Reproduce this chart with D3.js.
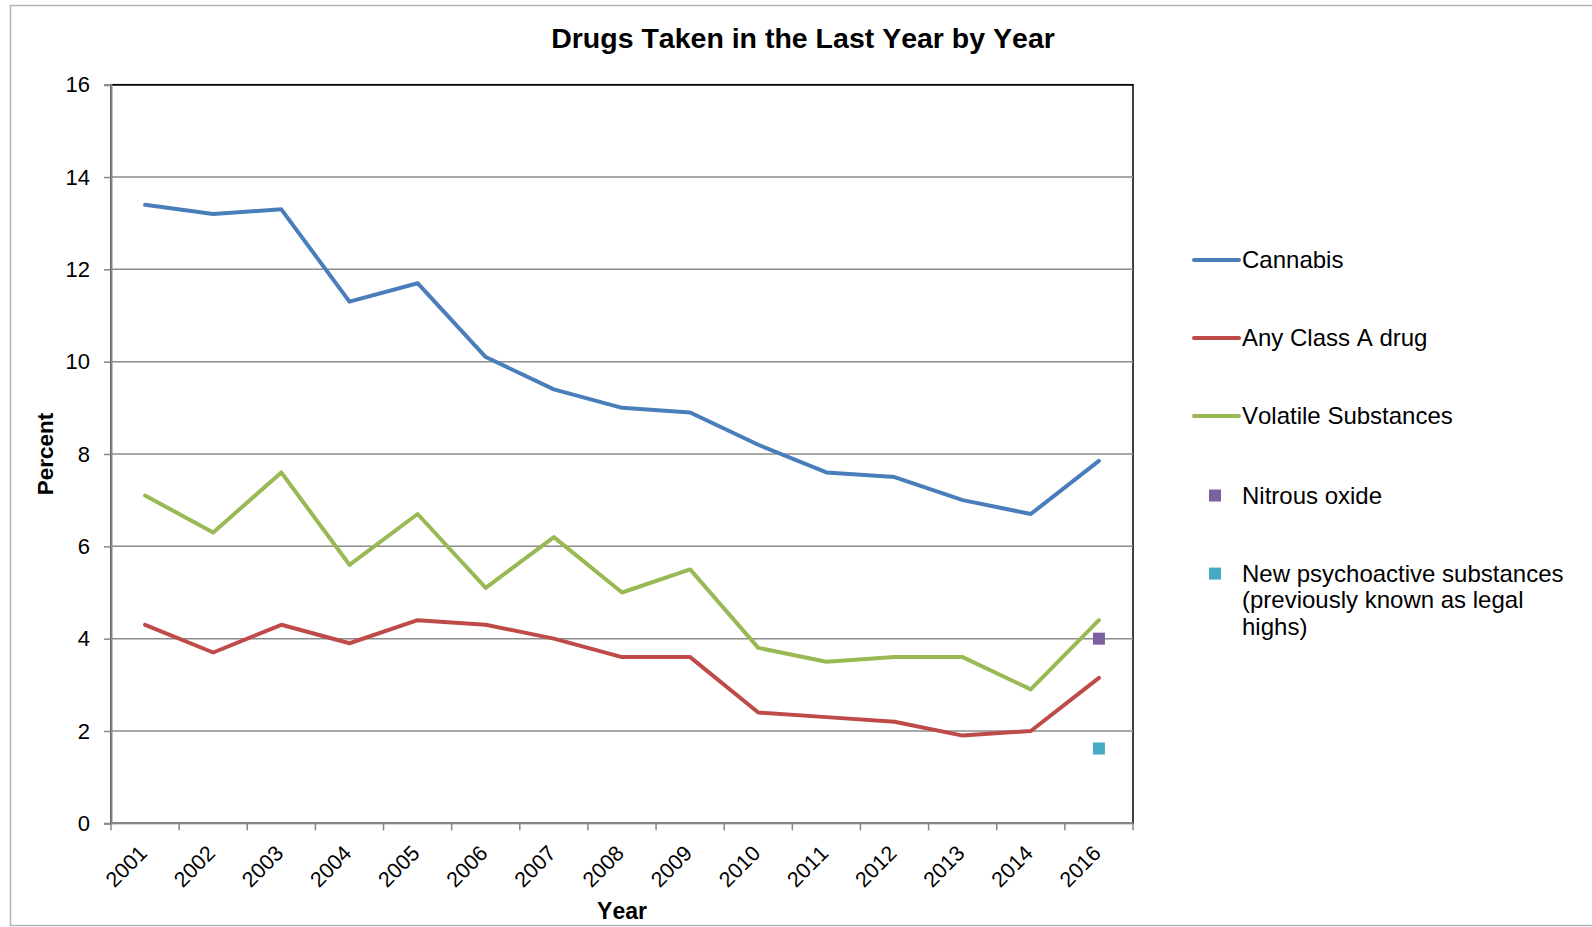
<!DOCTYPE html>
<html>
<head>
<meta charset="utf-8">
<script src="https://cdn.jsdelivr.net/npm/d3@7"></script>
<style>
  html, body { margin: 0; padding: 0; background: #fff; }
  svg { display: block; font-family: "Liberation Sans", Arial, sans-serif; font-kerning: none; }
</style>
</head>
<body>
<svg id="chart" width="1592" height="927"></svg>
<script>
// ---- data ----
const years = ["2001","2002","2003","2004","2005","2006","2007","2008","2009","2010","2011","2012","2013","2014","2016"];
const cannabis = [13.4,13.2,13.3,11.3,11.7,10.1,9.4,9.0,8.9,8.2,7.6,7.5,7.0,6.7,7.85];
const classA   = [4.3,3.7,4.3,3.9,4.4,4.3,4.0,3.6,3.6,2.4,2.3,2.2,1.9,2.0,3.15];
const volatile = [7.1,6.3,7.6,5.6,6.7,5.1,6.2,5.0,5.5,3.8,3.5,3.6,3.6,2.9,4.4];
const nitrousYear = "2016", nitrousValue = 4.0;
const npsYear = "2016", npsValue = 1.62;
const yTicks = [0,2,4,6,8,10,12,14,16];
const chartTitle = "Drugs Taken in the Last Year by Year";
const xTitle = "Year", yTitle = "Percent";

const lineSeries = [
  {name: "Cannabis", values: cannabis, color: "#4a7ebb"},
  {name: "Any Class A drug", values: classA, color: "#be4b48"},
  {name: "Volatile Substances", values: volatile, color: "#98b954"}
];
const pointSeries = [
  {name: ["Nitrous oxide"], year: nitrousYear, value: nitrousValue, color: "#7d60a0"},
  {name: ["New psychoactive substances", "(previously known as legal", "highs)"], year: npsYear, value: npsValue, color: "#46aac5"}
];

// ---- layout ----
const svg = d3.select("#chart");
const L = 111, R = 1133, T = 84.7, B = 823.3;

// outer chart border
svg.append("rect").attr("x", 10.5).attr("y", 5.5).attr("width", 1600).attr("height", 920)
  .attr("fill", "none").attr("stroke", "#b4b4b4").attr("stroke-width", 1.5);

const x = d3.scaleBand().domain(years).range([L, R]).padding(0);
const y = d3.scaleLinear().domain([0, 16]).range([B, T]);

// plot area border
svg.append("rect").attr("x", L).attr("y", T).attr("width", R - L).attr("height", B - T)
  .attr("fill", "none").attr("stroke", "#000").attr("stroke-width", 1.5);

// gridlines
svg.append("g").selectAll("line").data(yTicks.filter(d => d > 0)).join("line")
  .attr("x1", L).attr("x2", R).attr("y1", d => y(d)).attr("y2", d => y(d))
  .attr("stroke", d => d === 16 ? "#000" : "#8c8c8c").attr("stroke-width", 1.5);

// y axis
const yAxis = svg.append("g").attr("transform", `translate(${L},0)`)
  .call(d3.axisLeft(y).tickValues(yTicks).tickSize(7).tickPadding(14).tickFormat(d3.format("d")));
yAxis.select(".domain").attr("stroke", "#868686").attr("stroke-width", 2);
yAxis.selectAll(".tick line").attr("stroke", "#868686").attr("stroke-width", 1.5);
yAxis.selectAll("text").attr("font-size", 22).attr("fill", "#000")
  .attr("font-family", "Liberation Sans, Arial, sans-serif");

// x axis: ticks at category boundaries
const xg = svg.append("g");
xg.append("line").attr("x1", L).attr("x2", R).attr("y1", B).attr("y2", B)
  .attr("stroke", "#868686").attr("stroke-width", 2);
const bounds = years.map(d => x(d)).concat([x(years[years.length - 1]) + x.bandwidth()]);
xg.selectAll("line.tk").data(bounds).join("line").attr("class", "tk")
  .attr("x1", d => d).attr("x2", d => d).attr("y1", B).attr("y2", B + 7)
  .attr("stroke", "#868686").attr("stroke-width", 1.5);
xg.selectAll("text").data(years).join("text")
  .attr("transform", d => `translate(${x(d) + x.bandwidth() / 2 - 2},${B + 26}) rotate(-45)`)
  .attr("text-anchor", "end").attr("dy", "0.35em")
  .attr("font-size", 21.5).attr("fill", "#000").text(d => d);

// lines
const cx = d => x(d) + x.bandwidth() / 2;
const lineGen = d3.line().x((v, i) => cx(years[i])).y(v => y(v));
svg.append("g").selectAll("path").data(lineSeries).join("path")
  .attr("d", s => lineGen(s.values)).attr("fill", "none")
  .attr("stroke", s => s.color).attr("stroke-width", 4)
  .attr("stroke-linejoin", "round").attr("stroke-linecap", "round");

// single points
svg.append("g").selectAll("rect").data(pointSeries).join("rect")
  .attr("x", s => cx(s.year) - 6).attr("y", s => y(s.value) - 6)
  .attr("width", 12).attr("height", 12).attr("fill", s => s.color);

// titles
svg.append("text").attr("x", 803).attr("y", 48).attr("text-anchor", "middle")
  .attr("font-size", 28.5).attr("font-weight", "bold").text(chartTitle);
svg.append("text").attr("x", (L + R) / 2).attr("y", 919).attr("text-anchor", "middle")
  .attr("font-size", 23).attr("font-weight", "bold").text(xTitle);
svg.append("text").attr("transform", `translate(53,454) rotate(-90)`).attr("text-anchor", "middle")
  .attr("font-size", 22.5).attr("font-weight", "bold").text(yTitle);

// legend
const legRows = [260, 338, 416, 495.5, 573.6];
const lg = svg.append("g");
lineSeries.forEach((s, i) => {
  lg.append("line").attr("x1", 1194).attr("x2", 1239).attr("y1", legRows[i]).attr("y2", legRows[i])
    .attr("stroke", s.color).attr("stroke-width", 4).attr("stroke-linecap", "round");
  lg.append("text").attr("x", 1242).attr("y", legRows[i]).attr("dy", "0.35em")
    .attr("font-size", 24).attr("fill", "#000").text(s.name);
});
pointSeries.forEach((s, j) => {
  const ry = legRows[3 + j];
  lg.append("rect").attr("x", 1209).attr("y", ry - 6).attr("width", 12).attr("height", 12).attr("fill", s.color);
  s.name.forEach((t, k) => {
    lg.append("text").attr("x", 1242).attr("y", ry + k * 26.4).attr("dy", "0.35em")
      .attr("font-size", 24).attr("fill", "#000").text(t);
  });
});
</script>
</body>
</html>
